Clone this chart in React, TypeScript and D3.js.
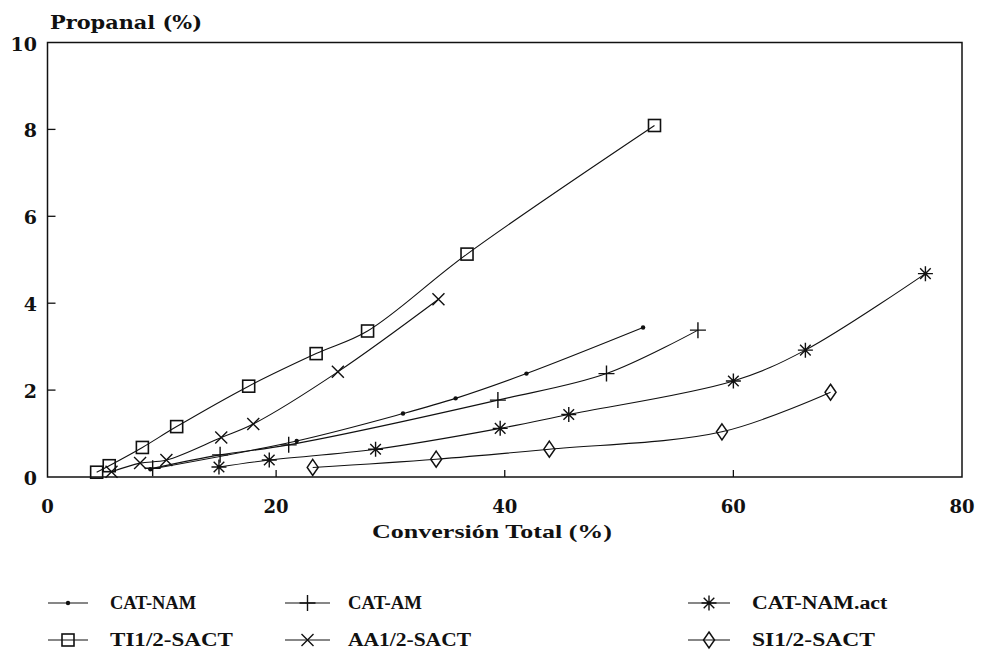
import React from "react";
import * as d3 from "d3";

// ---- data ----
const xTicks = [0, 20, 40, 60, 80];
const yTicks = [0, 2, 4, 6, 8, 10];

const catNamX = [9.0, 21.8, 31.1, 35.7, 41.9, 52.1];
const catNamY = [0.18, 0.83, 1.46, 1.81, 2.38, 3.44];

const catAmX = [9.2, 15.1, 21.1, 39.4, 48.9, 56.9];
const catAmY = [0.2, 0.51, 0.74, 1.77, 2.38, 3.38];

const catActX = [15.0, 19.4, 28.7, 39.6, 45.6, 60.0, 66.3, 76.8];
const catActY = [0.23, 0.39, 0.64, 1.12, 1.44, 2.21, 2.92, 4.68];

const tiX = [4.3, 5.4, 8.3, 11.3, 17.6, 23.5, 28.0, 36.7, 53.1];
const tiY = [0.11, 0.26, 0.68, 1.16, 2.09, 2.84, 3.36, 5.13, 8.09];

const aaX = [5.6, 8.1, 10.4, 15.2, 18.0, 25.4, 34.2];
const aaY = [0.12, 0.32, 0.39, 0.91, 1.22, 2.42, 4.09];

const siX = [23.2, 34.0, 43.9, 59.0, 68.5];
const siY = [0.22, 0.41, 0.64, 1.04, 1.95];

type Shape = "dot" | "plus" | "star" | "square" | "cross" | "diamond";

const series: { name: string; xs: number[]; ys: number[]; shape: Shape }[] = [
  { name: "CAT-NAM", xs: catNamX, ys: catNamY, shape: "dot" },
  { name: "CAT-AM", xs: catAmX, ys: catAmY, shape: "plus" },
  { name: "CAT-NAM.act", xs: catActX, ys: catActY, shape: "star" },
  { name: "TI1/2-SACT", xs: tiX, ys: tiY, shape: "square" },
  { name: "AA1/2-SACT", xs: aaX, ys: aaY, shape: "cross" },
  { name: "SI1/2-SACT", xs: siX, ys: siY, shape: "diamond" },
];

const SERIF = "'DejaVu Serif', 'Liberation Serif', serif";
const NARROW = "'Liberation Serif', 'DejaVu Serif', serif";
const INK = "#111";

function Marker({ shape, x, y }: { shape: Shape; x: number; y: number }) {
  const sw = 1.4;
  switch (shape) {
    case "dot":
      return <circle cx={x} cy={y} r={2.2} fill={INK} />;
    case "plus":
      return (
        <path d={`M${x - 8},${y}H${x + 8}M${x},${y - 8}V${y + 8}`} stroke={INK} strokeWidth={sw} fill="none" />
      );
    case "star": {
      const r = 7.5, q = 5.3;
      return (
        <path
          d={`M${x},${y - r}V${y + r}M${x - r},${y}H${x + r}M${x - q},${y - q}L${x + q},${y + q}M${x - q},${y + q}L${x + q},${y - q}`}
          stroke={INK}
          strokeWidth={sw}
          fill="none"
        />
      );
    }
    case "square":
      return <rect x={x - 6} y={y - 6} width={12} height={12} stroke={INK} strokeWidth={1.6} fill="none" />;
    case "cross":
      return (
        <path d={`M${x - 6},${y - 6}L${x + 6},${y + 6}M${x - 6},${y + 6}L${x + 6},${y - 6}`} stroke={INK} strokeWidth={sw} fill="none" />
      );
    case "diamond":
      return (
        <path d={`M${x},${y - 8}L${x + 5.5},${y}L${x},${y + 8}L${x - 5.5},${y}Z`} stroke={INK} strokeWidth={1.5} fill="none" />
      );
  }
}

export default function App() {
  const W = 982, H = 656;
  const x = d3.scaleLinear().domain([0, 80]).range([47.5, 962]);
  const y = d3.scaleLinear().domain([0, 10]).range([477, 42.5]);
  const line = d3
    .line<[number, number]>()
    .x((d) => x(d[0]))
    .y((d) => y(d[1]))
    .curve(d3.curveCatmullRom.alpha(0.5));

  const legendCols = [
    { lx0: 48, lx1: 88, tx: 110 },
    { lx0: 285, lx1: 330, tx: 348 },
    { lx0: 688, lx1: 730, tx: 752 },
  ];
  const legendRows = [603, 640];

  return (
    <svg width={W} height={H} style={{ position: "absolute", left: 0, top: 0, background: "#fff" }}>
      <rect width={W} height={H} fill="#fff" />
      {/* frame */}
      <rect x={x(0)} y={y(10)} width={x(80) - x(0)} height={y(0) - y(10)} fill="none" stroke={INK} strokeWidth={1.5} />
      {/* ticks */}
      {yTicks.slice(1, -1).map((t) => (
        <line key={"yt" + t} x1={x(0)} x2={x(0) + 8} y1={y(t)} y2={y(t)} stroke={INK} strokeWidth={1.3} />
      ))}
      {xTicks.slice(1, -1).map((t) => (
        <line key={"xt" + t} x1={x(t)} x2={x(t)} y1={y(0)} y2={y(0) - 7} stroke={INK} strokeWidth={1.3} />
      ))}
      {/* tick labels */}
      {yTicks.map((t) => (
        <text key={"yl" + t} x={37} y={y(t) + 8} textAnchor="end" fontFamily={SERIF} fontWeight="bold" fontSize={19} fill={INK}>
          {t}
        </text>
      ))}
      {xTicks.map((t) => (
        <text key={"xl" + t} x={x(t)} y={513} textAnchor="middle" fontFamily={SERIF} fontWeight="bold" fontSize={18} fill={INK}>
          {t}
        </text>
      ))}
      {/* axis titles */}
      <text x={50} y={29} fontFamily={SERIF} fontWeight="bold" fontSize={19} fill={INK} textLength={152} lengthAdjust="spacingAndGlyphs">
        Propanal (%)
      </text>
      <text x={372} y={538} fontFamily={NARROW} fontWeight="bold" fontSize={19} fill={INK} textLength={240} lengthAdjust="spacingAndGlyphs">
        Conversión Total (%)
      </text>
      {/* series */}
      {series.map((s) => {
        const pts = s.xs.map((v, i) => [v, s.ys[i]] as [number, number]);
        return (
          <g key={s.name}>
            <path d={line(pts) || ""} fill="none" stroke={INK} strokeWidth={1.1} />
            {pts.map((p, i) => (
              <Marker key={i} shape={s.shape} x={x(p[0])} y={y(p[1])} />
            ))}
          </g>
        );
      })}
      {/* legend */}
      {series.map((s, i) => {
        const c = legendCols[i % 3];
        const ry = legendRows[Math.floor(i / 3)];
        return (
          <g key={"lg" + s.name}>
            <line x1={c.lx0} x2={c.lx1} y1={ry} y2={ry} stroke={INK} strokeWidth={1.1} />
            <Marker shape={s.shape} x={(c.lx0 + c.lx1) / 2} y={ry} />
            <text x={c.tx} y={ry + 6} fontFamily={NARROW} fontWeight="bold" fontSize={18} fill={INK}
              textLength={s.name.length * 12.3} lengthAdjust="spacingAndGlyphs">
              {s.name}
            </text>
          </g>
        );
      })}
    </svg>
  );
}
